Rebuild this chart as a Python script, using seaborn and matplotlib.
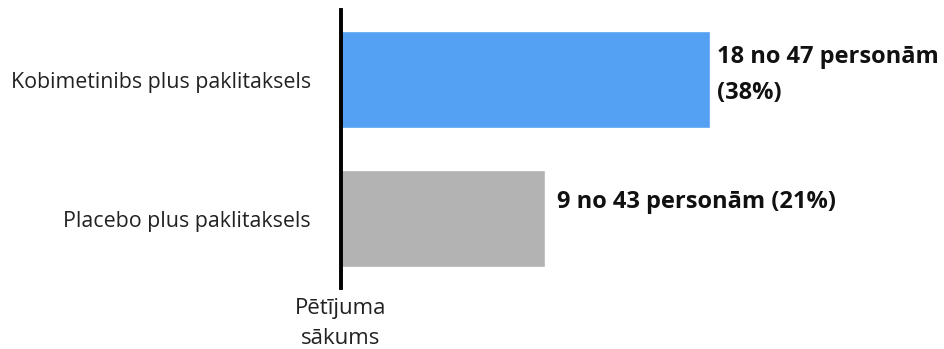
import pandas as pd
import matplotlib.pyplot as plt
import seaborn as sns

# chart values
groups = ['Kobimetinibs plus paklitaksels', 'Placebo plus paklitaksels']
percent = [38, 21]
labels = ['18 no 47 personām\n(38%)', '9 no 43 personām (21%)']
colors = ['#54A0F2', '#B3B3B3']

data = pd.DataFrame({'group': groups, 'percent': percent})

sns.set_theme(style='white')
plt.rcParams['font.family'] = ['Open Sans', 'DejaVu Sans']

fig = plt.figure(figsize=(9.44, 3.49), dpi=100)
ax = fig.add_axes([0.3612, 0.1748, 0.6165, 0.7965])

sns.barplot(data=data, y='group', x='percent', hue='group', palette=colors,
            orient='h', width=0.7, legend=False, ax=ax, saturation=1)

ax.set_xlim(0, 60)
ax.set_ylim(1.5, -0.5)
ax.set_xlabel('')
ax.set_ylabel('')
ax.set_xticks([])
ax.tick_params(axis='y', length=0, pad=21.5, labelsize=15.4, labelcolor='#222222')
for side in ['top', 'right', 'bottom']:
    ax.spines[side].set_visible(False)
ax.spines['left'].set_color('black')
ax.spines['left'].set_linewidth(2.8)

# value labels next to the bars
ax.text(percent[0] + 0.8, -0.03, labels[0], va='center', ha='left',
        fontsize=17, fontweight='bold', color='#111111', linespacing=1.65)
ax.text(percent[1] + 1.3, 1 - 0.12, labels[1], va='center', ha='left',
        fontsize=17, fontweight='bold', color='#111111')

# start marker label under the axis line
ax.text(0, 1.575, 'Pētījuma\nsākums', va='top', ha='center', fontsize=16,
        color='#222222', linespacing=1.55)

fig.savefig('out.png', dpi=100)
